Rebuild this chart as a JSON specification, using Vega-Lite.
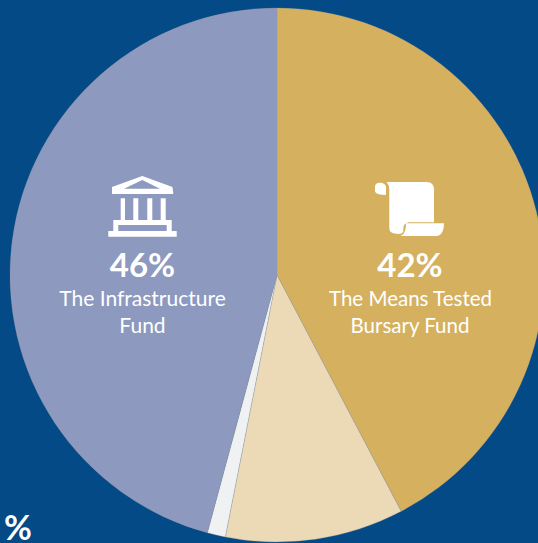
{"$schema":"https://vega.github.io/schema/vega-lite/v6.json","width":534,"height":534,"padding":{"left":10,"top":8,"right":0,"bottom":1},"autosize":"none","background":"#034a87","config":{"view":{"stroke":null}},"layer":[{"data":{"values":[{"fund":"The Means Tested Bursary Fund","share":42.3,"order":1},{"fund":"Other fund","share":10.8,"order":2},{"fund":"Remainder","share":1.1,"order":3},{"fund":"The Infrastructure Fund","share":45.8,"order":4}]},"mark":{"type":"arc","stroke":"#9a9a9a","strokeWidth":0.3},"encoding":{"theta":{"field":"share","type":"quantitative","stack":true},"order":{"field":"order","type":"ordinal"},"color":{"field":"fund","type":"nominal","legend":null,"sort":null,"scale":{"domain":["The Means Tested Bursary Fund","Other fund","Remainder","The Infrastructure Fund"],"range":["#d5b15f","#ecd9b5","#f0f1f3","#8d99bf"]}}}},{"data":{"values":[{"icon":"The Infrastructure Fund"}]},"mark":{"type":"point","filled":true,"fill":"#ffffff","opacity":1,"size":4,"shape":"M-134.7,-99L-104.5,-88L-103.7,-81L-165,-81L-165,-88ZM-134.7,-95L-153,-86.3L-117,-86.3ZM-156.3,-76.7H-152V-55H-156.3ZM-143.7,-76.7H-138.7V-55H-143.7ZM-129.7,-76.7H-124.7V-55H-129.7ZM-116.3,-76.7H-111.3V-55H-116.3ZM-163.7,-55H-105.3V-50H-163.7ZM-163.7,-50H-158.7V-44H-163.7ZM-110.3,-50H-105.3V-44H-110.3ZM-168.7,-44H-100.3V-38.3H-168.7Z"},"encoding":{}},{"data":{"values":[{"icon":"The Means Tested Bursary Fund"}]},"mark":{"type":"point","filled":true,"fill":"#ffffff","opacity":1,"size":4,"shape":"M109.7,-93L149.7,-93Q157,-93 157,-85L157,-52.7L131.3,-52.7Q126.3,-51 126.3,-46.7L126.3,-43.3Q125,-41 121.3,-41Q112.3,-41 112.3,-46.7L112.3,-85Q112.3,-90 109.7,-93ZM103,-92.3Q98,-92.3 98,-88.3L98,-83.3Q100,-80 109,-80L109,-88.3Q108,-92.3 103,-92.3ZM129,-51.7L167,-51.7C167,-44 164,-39 159.7,-39L123,-39C127,-40 129,-44 129,-51.7Z"},"encoding":{}},{"data":{"values":[{"t":"46%"}]},"mark":{"type":"text","font":"Lato","fontWeight":"bold","fontSize":33,"color":"#ffffff","align":"center","baseline":"alphabetic","dx":-134.5,"dy":2},"encoding":{"text":{"field":"t"}}},{"data":{"values":[{"t":"42%"}]},"mark":{"type":"text","font":"Lato","fontWeight":"bold","fontSize":33,"color":"#ffffff","align":"center","baseline":"alphabetic","dx":133,"dy":2},"encoding":{"text":{"field":"t"}}},{"data":{"values":[{"t":"The Infrastructure"}]},"mark":{"type":"text","font":"Lato","fontSize":21,"color":"#ffffff","align":"center","baseline":"alphabetic","dx":-134.5,"dy":31},"encoding":{"text":{"field":"t"}}},{"data":{"values":[{"t":"Fund"}]},"mark":{"type":"text","font":"Lato","fontSize":21,"color":"#ffffff","align":"center","baseline":"alphabetic","dx":-134.5,"dy":58},"encoding":{"text":{"field":"t"}}},{"data":{"values":[{"t":"The Means Tested"}]},"mark":{"type":"text","font":"Lato","fontSize":20.5,"color":"#ffffff","align":"center","baseline":"alphabetic","dx":133.5,"dy":31},"encoding":{"text":{"field":"t"}}},{"data":{"values":[{"t":"Bursary Fund"}]},"mark":{"type":"text","font":"Lato","fontSize":20.5,"color":"#ffffff","align":"center","baseline":"alphabetic","dx":133,"dy":58},"encoding":{"text":{"field":"t"}}},{"data":{"values":[{"t":"%"}]},"mark":{"type":"text","font":"Lato","fontWeight":"bold","fontSize":34,"color":"#ffffff","align":"center","baseline":"alphabetic","dx":-259,"dy":265},"encoding":{"text":{"field":"t"}}}]}
